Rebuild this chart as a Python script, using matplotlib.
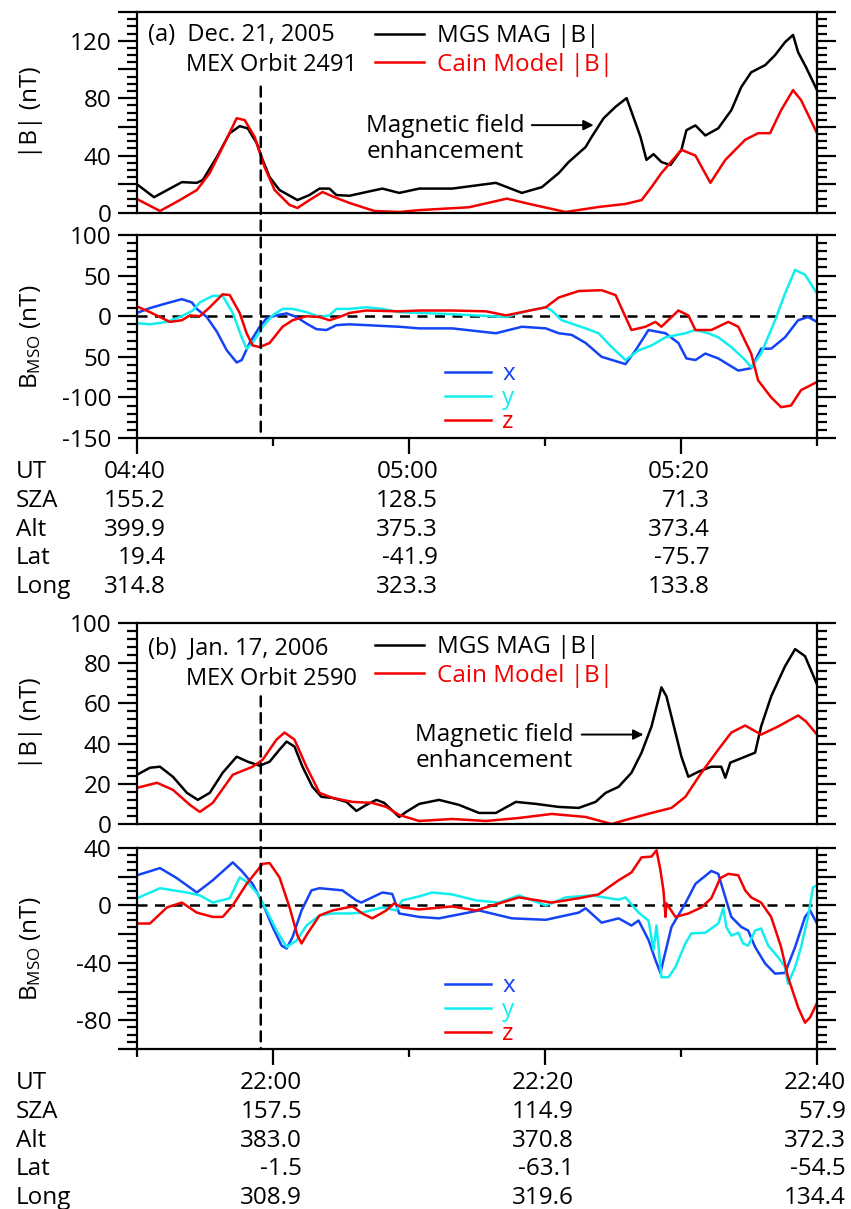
import numpy as np
import matplotlib
matplotlib.use("Agg")
import matplotlib.pyplot as plt
import matplotlib.transforms as mtransforms
from matplotlib.patches import ConnectionPatch
from matplotlib.ticker import MultipleLocator, FixedLocator

# ---------------- data (times in minutes after the panel start) ----------------
# (a) Dec. 21, 2005, start 04:40
a_mgs_t = [0, 1.25, 3.3, 4.4, 4.84, 5.87, 6.82, 7.55, 8.14, 8.8, 9.24, 9.75, 10.48, 11.8, 12.68,
           13.42, 14.15, 14.66, 15.62, 16.86, 18.04, 19.28, 20.75, 23.17, 26.39, 28.3, 29.77, 31.01,
           31.74, 32.99, 33.43, 34.31, 35.19, 36.0, 36.66, 37.02, 37.46, 37.98, 38.56, 39.22, 40.03,
           40.4, 41.06, 41.79, 42.74, 43.7, 44.43, 45.16, 46.19, 46.92, 47.65, 48.24, 48.61, 49.19, 50]
a_mgs_b = [20, 11, 21.5, 21, 23, 39, 55.6, 60.5, 59, 48.7, 37, 25, 16, 9, 12.5,
           17, 17, 12.5, 12, 14.6, 17, 14, 17, 17, 21, 14, 18, 27.8,
           35.5, 46, 53, 66, 74, 80, 62.6, 53, 37, 41, 35.5, 33.4, 44,
           57.7, 61, 54, 59, 71.6, 87.7, 98, 103, 110, 119, 124, 112, 101.6, 85.6]
a_cain_t = [0, 1.69, 3.15, 4.4, 5.35, 6.3, 7.33, 7.92, 8.65, 9.38, 10.12, 11.22, 11.8, 12.68, 13.64,
            14.52, 15.62, 17.45, 19.28, 20.75, 24.41, 27.2, 29.18, 31.52, 33.94, 35.92, 37.1, 37.83,
            38.56, 40.03, 41.06, 42.16, 43.26, 44.72, 45.67, 46.55, 47.36, 48.24, 48.83, 50]
a_cain_b = [9.7, 1.4, 9, 16, 27.8, 46, 66, 64.7, 53, 32, 16, 5.6, 3.5, 9, 14.6,
            11, 7, 1.4, 0.7, 2, 4, 10, 5.6, 0.7, 4.2, 6.3, 9, 18,
            27.8, 44, 40, 21, 37, 51, 55.6, 55.6, 71.6, 85.6, 78.6, 55.6]

a_bx_t = [0, 0.95, 2.2, 3.3, 4.03, 4.4, 5.13, 5.87, 6.6, 7.33, 7.7, 8.28, 9.02, 9.53, 10.26, 11.0,
          11.73, 12.46, 13.2, 13.93, 14.66, 15.62, 16.86, 18.04, 19.28, 20.75, 23.17, 26.39, 28.3,
          30.06, 31.01, 31.96, 32.99, 34.16, 35.92, 36.66, 37.61, 38.86, 39.81, 40.4, 41.06, 41.79,
          42.74, 44.21, 45.16, 45.89, 46.63, 47.65, 48.61, 49.34, 50]
a_bx = [4, 10, 16, 21, 17, 9, -1, -19, -42, -57, -54, -33, -13, -2.5, 1, 3.5,
        -1, -9, -16, -17, -11, -10, -11, -12, -13, -15, -15, -21, -13,
        -15, -21, -23, -33, -50, -59, -42, -17, -21, -33, -52, -54, -46,
        -52, -67, -64, -40, -40, -26, -5, -1, -7]
a_by_t = [0, 0.95, 2.2, 3.15, 4.11, 4.62, 5.57, 6.3, 7.04, 7.7, 8.06, 8.5, 9.24, 9.97, 10.7, 11.44,
          12.46, 13.42, 14.15, 14.66, 15.62, 16.86, 18.04, 19.28, 20.75, 23.17, 27.13, 28.59, 30.06,
          30.5, 31.23, 32.99, 33.94, 34.9, 35.92, 36.88, 37.83, 38.86, 40.32, 41.06, 42.01, 42.74,
          43.7, 44.72, 45.16, 45.89, 46.92, 47.65, 48.39, 49.12, 50]
a_by = [-8.6, -10, -7, -1, 7, 17, 25, 25, 4, -26, -40, -33, -13, 1, 9, 9,
        5, -1, 1, 9, 9, 11, 9, 5, 4, 2.5, -1, 6, 11,
        7, -5, -15, -21, -38, -54, -42, -36, -26, -21, -17, -21, -26,
        -38, -54, -63, -46, -5, 28, 57, 51, 28]
a_bz_t = [0, 0.95, 2.42, 3.3, 3.89, 4.62, 5.35, 6.3, 6.82, 7.55, 8.06, 8.5, 9.02, 9.75, 10.7, 11.44,
          12.46, 13.42, 14.15, 14.88, 15.62, 16.86, 19.28, 20.75, 23.17, 25.66, 27.13, 30.06, 31.01,
          32.48, 34.16, 35.19, 35.92, 36.36, 37.39, 38.12, 38.56, 39.81, 40.54, 41.06, 42.23, 43.48,
          44.21, 45.16, 45.67, 46.63, 47.36, 48.09, 48.83, 50]
a_bz = [12, 5, -7, -5, 1, 0, 11, 27, 26, 4, -21, -36, -38, -33, -13, -5,
        0, -1, -5, -1, 4, 7, 6, 7, 7, 6, 1, 11, 23,
        31, 32, 26, -1, -17, -13, -7, -13, 7, 1, -17, -17, -7,
        -13, -46, -79, -100, -112, -110, -91, -81]

# (b) Jan. 17, 2006, start 21:50
b_mgs_t = [0, 0.95, 1.69, 2.64, 3.67, 4.47, 5.35, 6.3, 7.33, 8.14, 9.02, 9.75, 10.48, 11.0, 11.58,
           12.17, 12.9, 13.56, 14.37, 15.4, 16.13, 16.86, 17.6, 18.18, 19.28, 19.79, 20.75, 22.21,
           23.68, 25.15, 26.39, 27.86, 29.33, 31.01, 32.48, 33.72, 34.46, 35.41, 36.36, 37.1, 37.83,
           38.34, 38.56, 38.93, 39.59, 40.03, 40.54, 41.28, 42.23, 42.96, 43.26, 43.62, 44.72, 45.45,
           45.89, 46.63, 47.65, 48.39, 49.12, 50]
b_mgs_b = [24.5, 28, 28.5, 23.5, 15.5, 12, 15.5, 25.5, 33.5, 31, 29, 31, 37, 41, 38.5,
           28.5, 18.5, 13.5, 13, 11, 6.5, 9.5, 12, 10.5, 3.5, 6, 10, 12,
           9.5, 5.5, 5.5, 11, 10, 8.5, 8, 11, 15.5, 18.5, 25.5, 35.5, 48.5,
           62, 68, 63.5, 45.5, 33.5, 23.5, 26, 28.5, 28.5, 23, 30.5, 33.5, 35.5,
           48.5, 63.5, 78.5, 87, 83.5, 69.5]
b_cain_t = [0, 1.47, 2.64, 3.89, 4.62, 5.57, 7.04, 8.5, 9.24, 10.26, 10.85, 11.58, 12.46, 13.42,
            14.37, 15.84, 17.3, 18.33, 19.28, 20.75, 23.17, 25.66, 28.08, 30.5, 32.99, 34.9, 35.92,
            37.83, 39.3, 40.32, 41.5, 42.74, 43.7, 44.72, 45.89, 47.14, 48.61, 49.19, 50]
b_cain_b = [18, 20.5, 17, 9.5, 6, 10.5, 24.5, 28.5, 32, 42, 45.5, 42, 28.5, 15.5,
            13, 11, 10.5, 8.5, 4.5, 1.5, 2.5, 1.5, 3, 5, 3.5, 0, 2,
            5.5, 8, 13.5, 25.5, 37, 45.5, 49, 44.5, 48.5, 54, 51, 44.5]

b_bx_t = [0, 1.69, 2.93, 4.4, 5.57, 7.04, 7.7, 8.5, 9.24, 9.97, 10.63, 11.0, 11.44, 12.1, 12.83,
          13.42, 15.1, 16.13, 16.5, 18.04, 18.77, 19.28, 20.75, 22.21, 25.15, 27.57, 30.06, 32.48,
          32.99, 34.16, 35.41, 36.36, 36.88, 37.61, 38.12, 38.49, 38.71, 39.3, 40.32, 41.06, 42.23,
          42.74, 43.26, 43.7, 44.43, 44.94, 45.45, 46.19, 46.92, 47.65, 48.39, 49.12, 49.49, 50]
b_bx = [21, 26, 19, 9, 17.5, 30, 24, 15, 1.4, -15, -28, -30, -22, -3.5, 10.5,
        12, 10.5, 3.5, 2, 9, 8, -5.6, -8, -9, -3.5, -9, -10, -5,
        -2, -12, -9, -14, -10.5, -24, -38, -47, -38, -15, 1.4, 15, 24,
        22, 5.6, -8, -15, -17.5, -29, -40.5, -47.5, -47, -29, -8, -3.5, -12.6]
b_by_t = [0, 1.69, 3.67, 4.62, 5.57, 6.82, 7.55, 8.14, 8.87, 9.53, 10.26, 11.0, 11.73, 12.46,
          13.42, 14.37, 15.62, 16.57, 18.04, 19.06, 19.5, 20.75, 21.7, 23.17, 24.93, 26.61, 28.08,
          30.06, 31.52, 33.43, 35.41, 35.92, 36.88, 37.61, 37.98, 38.2, 38.56, 39.08, 39.59, 40.32,
          40.76, 41.79, 42.74, 43.11, 43.33, 43.7, 44.21, 44.57, 44.94, 45.45, 45.89, 46.41, 47.14,
          47.65, 47.87, 48.39, 48.83, 49.34, 49.71, 50]
b_by = [5, 12, 9, 7, 2, 5, 19.5, 16, 8, -3.5, -17.5, -29, -24.5, -14,
        -7, -5.6, -5.6, -5, -1.4, -3.5, 3.5, 6.3, 9, 7.7, 3.5, 2, 7,
        0, 5.6, 7, 4, 5.6, -5, -10.5, -31, -14, -50, -50, -43, -26.5,
        -19.5, -19, -12.6, -2, -15, -21, -19, -26.5, -28, -17.5, -16, -28, -36,
        -43, -54.5, -43, -29, -8, 12.6, 14]
b_bz_t = [0, 0.95, 2.2, 3.3, 4.4, 5.57, 6.3, 7.04, 8.06, 9.24, 9.75, 10.48, 11.22, 11.8, 12.1,
          12.54, 13.42, 14.37, 15.84, 16.57, 17.3, 18.33, 18.91, 19.5, 20.75, 23.17, 24.93, 26.61,
          28.08, 30.5, 32.48, 33.94, 35.41, 36.36, 37.1, 37.83, 38.2, 38.49, 38.71, 38.86, 38.93,
          39.59, 40.54, 41.5, 42.23, 42.89, 43.48, 44.21, 44.72, 45.16, 45.89, 46.63, 47.36, 47.87,
          48.61, 49.12, 49.49, 50]
b_bz = [-12.6, -12.6, -1.4, 2, -5, -8, -8, 0, 15, 29, 29.5, 19.5, -1.4, -21, -26.5,
        -19.5, -7, -3.5, -0.7, -5.6, -9, -3.5, 1.4, -1.4, -2.8, -0.7, -3.5, 1.4,
        5.6, 2, 5, 7.7, 17.5, 23, 33.5, 34, 38.4, 24.4, 10.5, -8, 1.4,
        -8, -5.6, -1.4, 5, 19, 22, 21, 10.5, 5.6, 2, -8, -29, -50,
        -71, -81.7, -78, -68]

# vertical dashed marker times, top of the marker in |B| units
a_mark_t, a_mark_top = 9.1, 88
b_mark_t, b_mark_top = 9.1, 63.5

# orbit table
row_names = ["UT", "SZA", "Alt", "Lat", "Long"]
a_table_t = [0, 20, 40]
a_table = [["04:40", "05:00", "05:20"],
           ["155.2", "128.5", "71.3"],
           ["399.9", "375.3", "373.4"],
           ["19.4", "-41.9", "-75.7"],
           ["314.8", "323.3", "133.8"]]
b_table_t = [10, 30, 50]
b_table = [["22:00", "22:20", "22:40"],
           ["157.5", "114.9", "57.9"],
           ["383.0", "370.8", "372.3"],
           ["-1.5", "-63.1", "-54.5"],
           ["308.9", "319.6", "134.4"]]

# y tick labels of the B_MSO panels as printed
a_bmso_ticks = [-150, -100, -50, 0, 50, 100]
a_bmso_ticklabels = ["-150", "-100", "50", "0", "50", "100"]
b_bmso_ticks = [-80, -40, 0, 40]

# ---------------- styling ----------------
plt.rcParams["font.family"] = ["Open Sans", "DejaVu Sans"]
plt.rcParams["mathtext.fontset"] = "custom"
plt.rcParams["mathtext.rm"] = "Open Sans"
plt.rcParams["mathtext.it"] = "Open Sans"
plt.rcParams["axes.unicode_minus"] = False
plt.rcParams["axes.linewidth"] = 1.6

BLUE = "#1443f5"
CYAN = "#12eeee"
RED = "#f40000"
LW = 1.8
FS_TICK = 17.5
FS_LEG = 17.5

fig = plt.figure(figsize=(8.51, 12.09), dpi=100)
L, W = 137 / 851, 680 / 851


def add_ax(top_px, bot_px):
    return fig.add_axes([L, 1 - bot_px / 1209, W, (bot_px - top_px) / 1209])


axa1 = add_ax(12, 213)
axa2 = add_ax(235, 438)
axb1 = add_ax(623, 824)
axb2 = add_ax(848, 1049)


def style_y(ax, major, minor):
    ax.yaxis.set_major_locator(major)
    ax.yaxis.set_minor_locator(MultipleLocator(minor))
    ax.tick_params(axis="y", which="both", direction="out", left=True, right=True,
                   labelsize=FS_TICK, width=1.6, pad=5)
    ax.tick_params(axis="y", which="major", length=13.5)
    ax.tick_params(axis="y", which="minor", length=7.5)
    ax.set_xlim(0, 50)


def style_x_bottom(ax, major_t):
    ax.xaxis.set_major_locator(FixedLocator(major_t))
    ax.xaxis.set_minor_locator(MultipleLocator(10))
    ax.tick_params(axis="x", which="both", direction="out", bottom=True, top=False,
                   labelbottom=False, width=1.6)
    ax.tick_params(axis="x", which="major", length=11.5)
    ax.tick_params(axis="x", which="minor", length=6)


def no_x(ax):
    ax.tick_params(axis="x", which="both", bottom=False, top=False, labelbottom=False)


def mag_panel(ax, tm, bm, tc, bc, ymax, major, minor, label_lines):
    ax.plot(tm, bm, color="k", lw=LW, label="MGS MAG |B|")
    ax.plot(tc, bc, color=RED, lw=LW, label="Cain Model |B|")
    ax.set_ylim(0, ymax)
    style_y(ax, major, minor)
    no_x(ax)
    ax.set_ylabel("|B| (nT)", fontsize=FS_TICK)
    ax.yaxis.set_label_coords(-0.138, 0.5)
    ax.legend(loc="upper left", bbox_to_anchor=(0.35, 0.94), frameon=False,
              fontsize=FS_LEG, handlelength=2.0, handletextpad=0.55,
              labelspacing=0.2, borderpad=0, borderaxespad=0, labelcolor="linecolor")
    ax.text(0.016, label_lines[2], label_lines[0], transform=ax.transAxes,
            fontsize=FS_LEG - 0.5, va="center", ha="left")
    ax.text(0.072, label_lines[3], label_lines[1], transform=ax.transAxes,
            fontsize=FS_LEG - 0.5, va="center", ha="left")


def bmso_panel(ax, bx_t, bx, by_t, by, bz_t, bz, ylim, major_ticks, major_labels, major_step, minor):
    ax.axhline(0, color="k", lw=LW, ls=(0, (4, 3)))
    ax.plot(bx_t, bx, color=BLUE, lw=LW, label="x")
    ax.plot(by_t, by, color=CYAN, lw=LW, label="y")
    ax.plot(bz_t, bz, color=RED, lw=LW, label="z")
    ax.set_ylim(*ylim)
    style_y(ax, MultipleLocator(major_step), minor)
    ax.set_yticks(np.arange(ylim[0], ylim[1] + 1, major_step))
    labs = []
    for v in np.arange(ylim[0], ylim[1] + 1, major_step):
        if v in major_ticks:
            labs.append(major_labels[major_ticks.index(v)])
        else:
            labs.append("")
    ax.set_yticklabels(labs)
    ax.set_ylabel(r"B$_{\mathrm{MSO}}$ (nT)", fontsize=FS_TICK)
    ax.yaxis.set_label_coords(-0.138, 0.5)
    ax.legend(loc="upper left", bbox_to_anchor=(0.453, 0.372), frameon=False,
              fontsize=FS_LEG, handlelength=1.9, handletextpad=0.45,
              labelspacing=0.0, borderpad=0, borderaxespad=0, labelcolor="linecolor")


def annotate(ax, text_t, text_b, tail, head):
    ax.text(text_t, text_b, "Magnetic field\nenhancement", ha="center", va="center",
            fontsize=FS_LEG, linespacing=1.12)
    ax.annotate("", xy=head, xytext=tail,
                arrowprops=dict(arrowstyle="-|>", color="k", lw=1.4, mutation_scale=15,
                                shrinkA=0, shrinkB=0))


def table(ax, cols_t, rows):
    offs = [40, 69, 98, 126, 155]
    for i, name in enumerate(row_names):
        tr = mtransforms.blended_transform_factory(fig.transFigure, ax.transAxes) + \
            mtransforms.ScaledTranslation(0, -offs[i] / 100, fig.dpi_scale_trans)
        fig.text(16 / 851, 0, name, transform=tr, fontsize=FS_TICK, ha="left", va="baseline")
        for j, t in enumerate(cols_t):
            tr2 = mtransforms.blended_transform_factory(ax.transData, ax.transAxes) + \
                mtransforms.ScaledTranslation(29 / 100, -offs[i] / 100, fig.dpi_scale_trans)
            ax.text(t, 0, rows[i][j], transform=tr2, fontsize=FS_TICK, ha="right",
                    va="baseline", clip_on=False)


def marker(ax_top, ax_bot, t, top, bot):
    con = ConnectionPatch(xyA=(t, top), coordsA=ax_top.transData, xyB=(t, bot),
                          coordsB=ax_bot.transData, color="k", lw=LW, ls=(0, (4, 2.7)))
    fig.add_artist(con)


# ---------------- panel (a) ----------------
mag_panel(axa1, a_mgs_t, a_mgs_b, a_cain_t, a_cain_b, 140, MultipleLocator(20), 5,
          ["(a)  Dec. 21, 2005", "MEX Orbit 2491", 0.884, 0.738])
axa1.set_yticks(np.arange(0, 141, 20))
axa1.set_yticklabels(["0", "", "40", "", "80", "", "120", ""])
annotate(axa1, 22.65, 51.4, (29.03, 61.2), (33.58, 61.2))
bmso_panel(axa2, a_bx_t, a_bx, a_by_t, a_by, a_bz_t, a_bz, (-150, 100),
           a_bmso_ticks, a_bmso_ticklabels, 50, 10)
style_x_bottom(axa2, [0, 20, 40])
table(axa2, a_table_t, a_table)
marker(axa1, axa2, a_mark_t, a_mark_top, -150)

# ---------------- panel (b) ----------------
mag_panel(axb1, b_mgs_t, b_mgs_b, b_cain_t, b_cain_b, 100, MultipleLocator(20), 4,
          ["(b)  Jan. 17, 2006", "MEX Orbit 2590", 0.874, 0.72])
annotate(axb1, 26.25, 38, (32.7, 44.5), (37.24, 44.5))
bmso_panel(axb2, b_bx_t, b_bx, b_by_t, b_by, b_bz_t, b_bz, (-100, 40),
           b_bmso_ticks, [str(v) for v in b_bmso_ticks], 20, 5)
style_x_bottom(axb2, [10, 30, 50])
table(axb2, b_table_t, b_table)
marker(axb1, axb2, b_mark_t, b_mark_top, -100)

fig.savefig("out.png", dpi=100)
